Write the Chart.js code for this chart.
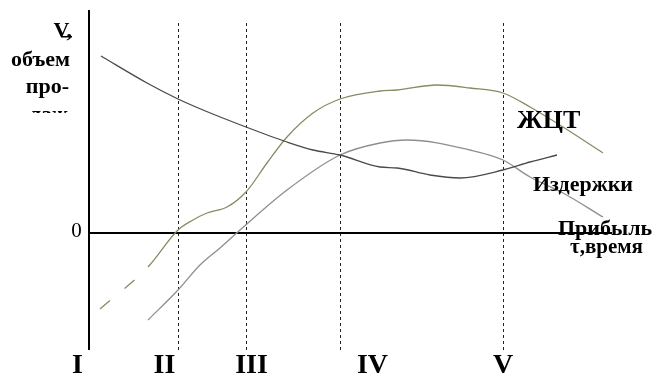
<!DOCTYPE html>
<html>
<head>
<meta charset="utf-8">
<script src="https://cdn.jsdelivr.net/npm/chart.js@4"></script>
<style>
  html, body { margin: 0; padding: 0; background: #fff; }
  #wrap { width: 654px; height: 375px; position: relative; }
</style>
</head>
<body>
<div id="wrap"><canvas id="lifecycle"></canvas></div>
<script>
// time axis runs from the V axis to the right, value axis: 0 on the time line
const costX   = [12, 58, 89, 114, 157, 198, 224, 251, 291, 308, 341, 371, 414, 441, 468];
const costY   = [177, 150, 134, 123, 106, 91, 83, 78, 66, 65, 58, 55, 63, 71, 78];

const salesX  = [11, 59, 89, 104, 118, 138, 157, 178, 198, 224, 251, 291, 308, 348, 381, 414, 441, 474, 514];
const salesY  = [-76, -34, 3, 13, 20, 26, 41, 70, 96, 120, 134, 142, 143, 148, 145, 140, 126, 106, 80];

const profitX = [59, 89, 111, 131, 151, 198, 251, 291, 318, 381, 414, 441, 474, 514];
const profitY = [-87, -57, -32, -15, 3, 43, 78, 90, 93, 83, 73, 56, 40, 16];

// boundaries between the stages of the cycle
const stageBounds = [89, 157, 251, 414];
const stageNames = ['I', 'II', 'III', 'IV', 'V'];
const stageNameAt = [-11.5, 75.5, 162.5, 283.5, 414];

const toPoints = (xs, ys) => xs.map((x, i) => ({ x: x, y: ys[i] }));

const decor = {
  id: 'decor',
  beforeDatasetsDraw(chart) {
    const { ctx, scales: { x, y } } = chart;
    ctx.save();
    // dashed stage lines
    ctx.strokeStyle = '#222';
    ctx.lineWidth = 1;
    ctx.setLineDash([3, 3]);
    stageBounds.forEach(v => {
      const px = Math.round(x.getPixelForValue(v)) + 0.5;
      ctx.beginPath();
      ctx.moveTo(px, y.getPixelForValue(210));
      ctx.lineTo(px, y.getPixelForValue(-117));
      ctx.stroke();
    });
    ctx.setLineDash([]);
    // axes
    ctx.strokeStyle = '#000';
    ctx.lineWidth = 2;
    ctx.beginPath();
    ctx.moveTo(x.getPixelForValue(0), y.getPixelForValue(223));
    ctx.lineTo(x.getPixelForValue(0), y.getPixelForValue(-117));
    ctx.moveTo(x.getPixelForValue(0), y.getPixelForValue(0));
    ctx.lineTo(x.getPixelForValue(523), y.getPixelForValue(0));
    ctx.stroke();
    ctx.restore();
  },
  afterDraw(chart) {
    const { ctx, scales: { x, y } } = chart;
    const serif = '"Liberation Serif", "Times New Roman", serif';
    ctx.save();
    ctx.fillStyle = '#000';
    ctx.textBaseline = 'alphabetic';

    // stage numbers
    ctx.font = 'bold 28px ' + serif;
    ctx.textAlign = 'center';
    stageNames.forEach((s, i) => ctx.fillText(s, x.getPixelForValue(stageNameAt[i]), 373));

    // zero mark
    ctx.font = '21px ' + serif;
    ctx.fillText('0', 76.5, y.getPixelForValue(0) + 4);

    // value axis title, last line cut off
    ctx.textAlign = 'right';
    ctx.font = 'bold 22px ' + serif;
    ctx.fillText('V,', 72, 37);
    ctx.fillRect(61, 36, 11, 1.5);
    ctx.fillText('объем', 70, 66);
    ctx.fillText('про-', 69, 93);
    ctx.save();
    ctx.beginPath();
    ctx.rect(0, 100, 88, 13);
    ctx.clip();
    ctx.fillText('даж', 68, 121);
    ctx.restore();

    // curve names
    ctx.textAlign = 'left';
    ctx.font = 'bold 26px ' + serif;
    ctx.fillText('ЖЦТ', 517, 128);
    ctx.font = 'bold 22px ' + serif;
    ctx.fillText('Издержки', 533, 191);
    ctx.fillText('Прибыль', 558, 235);
    ctx.font = 'bold 21px ' + serif;
    ctx.fillText('τ,время', 570, 253);
    ctx.restore();
  }
};

new Chart(document.getElementById('lifecycle'), {
  type: 'line',
  data: {
    datasets: [
      {
        label: 'Издержки',
        data: toPoints(costX, costY),
        borderColor: '#4a4a4a',
        borderWidth: 1.3,
        pointRadius: 0,
        cubicInterpolationMode: 'monotone'
      },
      {
        label: 'ЖЦТ',
        data: toPoints(salesX, salesY),
        borderColor: '#8a8a62',
        borderWidth: 1.3,
        pointRadius: 0,
        cubicInterpolationMode: 'monotone',
        segment: {
          borderDash: c => c.p0DataIndex === 0 ? [13, 19] : undefined
        }
      },
      {
        label: 'Прибыль',
        data: toPoints(profitX, profitY),
        borderColor: '#8e8e8e',
        borderWidth: 1.3,
        pointRadius: 0,
        cubicInterpolationMode: 'monotone'
      }
    ]
  },
  options: {
    responsive: true,
    maintainAspectRatio: false,
    animation: false,
    layout: { padding: { left: 89, right: 0, top: 10, bottom: 25 } },
    plugins: { legend: { display: false }, tooltip: { enabled: false } },
    scales: {
      x: { type: 'linear', min: 0, max: 565, display: false },
      y: { min: -117, max: 223, display: false }
    }
  },
  plugins: [decor]
});
</script>
</body>
</html>
